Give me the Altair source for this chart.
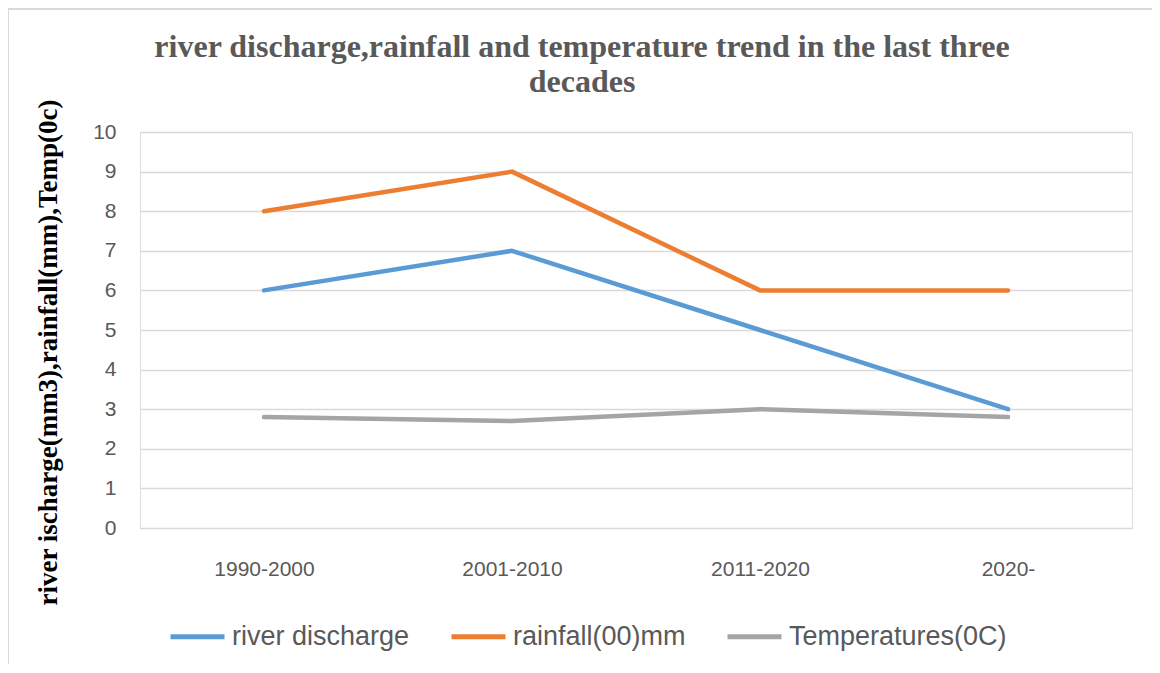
import altair as alt
import pandas as pd

categories = ["1990-2000", "2001-2010", "2011-2020", "2020-"]
series_names = ["river discharge", "rainfall(00)mm", "Temperatures(0C)"]
river_discharge = [6, 7, 5, 3]
rainfall = [8, 9, 6, 6]
temperatures = [2.8, 2.7, 3.0, 2.8]
colors = ["#5B9BD5", "#ED7D31", "#A5A5A5"]
y_ticks = [0, 1, 2, 3, 4, 5, 6, 7, 8, 9, 10]

rows = []
for name, vals in zip(series_names, [river_discharge, rainfall, temperatures]):
    for i, (c, v) in enumerate(zip(categories, vals)):
        rows.append({"period": c, "value": v, "series": name, "order": i})
df = pd.DataFrame(rows)

lines = alt.Chart(df).mark_line(strokeWidth=4.5, strokeCap="round", strokeJoin="round").encode(
    x=alt.X("period:N", sort=categories,
            scale=alt.Scale(type="point", padding=0.5),
            axis=alt.Axis(title=None, labelAngle=0, domain=False, ticks=False, tickSize=0,
                          grid=False, labelFont="Liberation Sans", labelFontSize=21,
                          labelColor="#595959", labelPadding=30)),
    y=alt.Y("value:Q", scale=alt.Scale(domain=[0, 10], nice=False),
            axis=alt.Axis(values=y_ticks, title="river ischarge(mm3),rainfall(mm),Temp(0c)",
                          titleFont="Liberation Serif", titleFontSize=27, titleFontWeight="bold",
                          titleColor="#000000", titleAngle=270, titleX=-92, titleY=220,
                          titleAlign="center", titleBaseline="middle",
                          domain=False, ticks=False, tickSize=0,
                          gridColor="#D9D9D9", gridWidth=1.3,
                          labelFont="Liberation Sans", labelFontSize=21,
                          labelColor="#595959", labelPadding=24)),
    color=alt.Color("series:N", scale=alt.Scale(domain=series_names, range=colors),
                    legend=alt.Legend(title=None, orient="none", direction="horizontal",
                                      legendX=28, legendY=475, padding=0,
                                      symbolType="stroke", symbolSize=2916, symbolStrokeWidth=5,
                                      labelFont="Liberation Sans", labelFontSize=27,
                                      labelColor="#595959", labelOffset=5, columnPadding=31,
                                      labelLimit=400)),
    order="order:Q",
)

frame = alt.Chart(alt.Data(values=[{}])).mark_rect(
    fill="transparent", stroke="#D9D9D9", strokeWidth=2
).encode(
    x=alt.value(-132), x2=alt.value(1030), y=alt.value(-123), y2=alt.value(560)
)

chart = alt.layer(frame, lines).properties(
    width=992, height=396,
    autosize=alt.AutoSizeParams(type="none"),
    padding={"left": 132, "top": 124, "right": 20, "bottom": 136},
    title=alt.TitleParams(
        text=["river discharge,rainfall and temperature trend in the last three", "decades"],
        font="Liberation Serif", fontSize=32, fontWeight="bold", color="#595959",
        anchor="middle", frame="group", dx=-54, offset=-91, lineHeight=35,
    ),
).configure_view(stroke=None).configure(background="white")

chart.save("out.html", embed_options={"renderer": "svg", "actions": False})
